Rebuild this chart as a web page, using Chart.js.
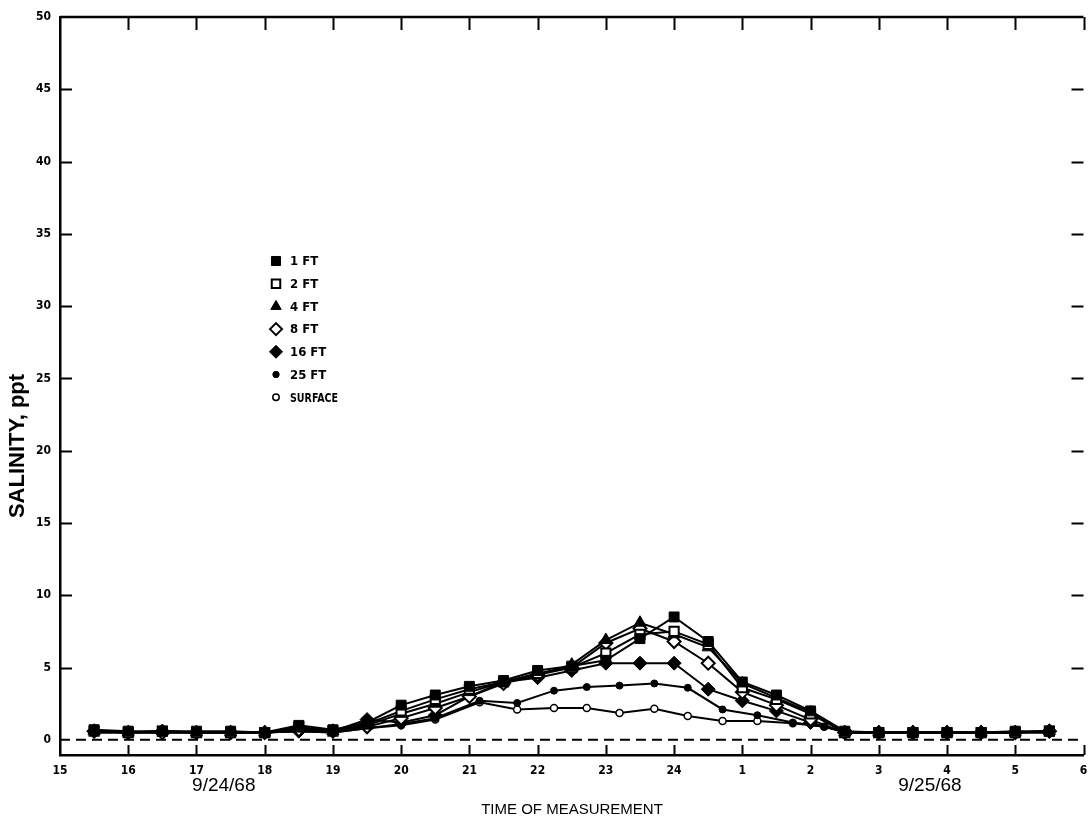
<!DOCTYPE html>
<html>
<head>
<meta charset="utf-8">
<script src="https://cdn.jsdelivr.net/npm/chart.js@4.4.1/dist/chart.umd.min.js"></script>
<style>
  html, body { margin: 0; padding: 0; background: #fff; }
  #wrap { width: 1092px; height: 823px; position: relative; }
</style>
</head>
<body>
<div id="wrap"><canvas id="c" width="1092" height="823"></canvas></div>
<script>
// Hour ticks along the time axis (clock hours running past midnight)
const hourTicks  = [15, 16, 17, 18, 19, 20, 21, 22, 23, 24, 25, 26, 27, 28, 29, 30];
const hourLabels = ['15', '16', '17', '18', '19', '20', '21', '22', '23', '24', '1', '2', '3', '4', '5', '6'];
const salinityTicks = [0, 5, 10, 15, 20, 25, 30, 35, 40, 45, 50];
const dateLabels = ['9/24/68', '9/25/68'];

// Sampling times (hours) for the 1-16 ft depths
const hoursUpper = [15.5, 16, 16.5, 17, 17.5, 18, 18.5, 19, 19.5, 20, 20.5, 21, 21.5, 22, 22.5,
                    23, 23.5, 24, 24.5, 25, 25.5, 26, 26.5, 27, 27.5, 28, 28.5, 29, 29.5];
// Sampling times (hours) for the 25 ft depth and the surface
const hoursLower = [15.5, 16, 16.5, 17, 17.5, 18, 18.5, 19, 19.5, 20, 20.5, 21.15, 21.7, 22.24, 22.72,
                    23.2, 23.71, 24.2, 24.71, 25.22, 25.74, 26.2, 26.55, 27, 27.5, 28, 28.5, 29, 29.5];

// Salinity, ppt
const ft1  = [0.7, 0.6, 0.6, 0.6, 0.6, 0.5, 1.0, 0.7, 1.2, 2.4, 3.1, 3.7, 4.1, 4.8, 5.1,
              5.5, 7.0, 8.5, 6.8, 4.0, 3.1, 2.0, 0.6, 0.5, 0.5, 0.5, 0.5, 0.6, 0.6];
const ft2  = [0.6, 0.5, 0.6, 0.5, 0.5, 0.5, 0.9, 0.6, 1.1, 2.0, 2.8, 3.5, 4.0, 4.6, 5.0,
              6.0, 7.3, 7.5, 6.6, 3.6, 2.8, 1.8, 0.5, 0.5, 0.5, 0.5, 0.5, 0.5, 0.6];
const ft4  = [0.6, 0.5, 0.6, 0.5, 0.5, 0.5, 0.8, 0.6, 1.0, 1.8, 2.5, 3.3, 4.0, 4.5, 5.2,
              6.9, 8.1, 7.3, 6.4, 3.9, 2.9, 1.9, 0.5, 0.5, 0.5, 0.5, 0.5, 0.5, 0.6];
const ft8  = [0.6, 0.5, 0.5, 0.5, 0.5, 0.5, 0.7, 0.6, 0.9, 1.5, 2.2, 3.0, 3.9, 4.5, 5.0,
              6.7, 7.7, 6.8, 5.3, 3.3, 2.4, 1.4, 0.5, 0.5, 0.5, 0.5, 0.5, 0.5, 0.6];
const ft16 = [0.6, 0.5, 0.6, 0.5, 0.5, 0.5, 0.6, 0.6, 1.4, 1.2, 1.7, 3.0, 4.0, 4.3, 4.8,
              5.3, 5.3, 5.3, 3.5, 2.7, 2.0, 1.2, 0.5, 0.5, 0.5, 0.5, 0.5, 0.5, 0.6];
const ft25 = [0.5, 0.5, 0.5, 0.5, 0.5, 0.5, 0.6, 0.5, 0.8, 1.1, 1.5, 2.7, 2.55, 3.4, 3.65,
              3.75, 3.9, 3.6, 2.1, 1.7, 1.2, 0.9, 0.5, 0.5, 0.5, 0.5, 0.5, 0.5, 0.5];
const surface = [0.5, 0.5, 0.5, 0.5, 0.5, 0.5, 0.6, 0.5, 0.8, 1.0, 1.4, 2.6, 2.1, 2.2, 2.2,
                 1.85, 2.15, 1.65, 1.3, 1.3, 1.15, 0.9, 0.5, 0.5, 0.5, 0.5, 0.5, 0.5, 0.5];

const seriesNames = ['1 FT', '2 FT', '4 FT', '8 FT', '16 FT', '25 FT', 'SURFACE'];

const condensed = "'DejaVu Sans Condensed', 'Liberation Sans Narrow', sans-serif";

function pts(hours, vals) { return hours.map((h, i) => ({ x: h, y: vals[i] })); }

const markerStyles = [
  { pointStyle: 'rect',     radius: 7,   key: 6.4, fill: '#000', borderWidth: 1 },
  { pointStyle: 'rect',     radius: 6.5, key: 6,   fill: '#fff', borderWidth: 2 },
  { pointStyle: 'triangle', radius: 7,   key: 6,   fill: '#000', borderWidth: 1 },
  { pointStyle: 'rectRot',  radius: 6.5, key: 6,   fill: '#fff', borderWidth: 2 },
  { pointStyle: 'rectRot',  radius: 7,   key: 6.5, fill: '#000', borderWidth: 1 },
  { pointStyle: 'circle',   radius: 3.5, key: 3.2, fill: '#000', borderWidth: 1 },
  { pointStyle: 'circle',   radius: 3.5, key: 3.2, fill: '#fff', borderWidth: 1.5 }
];

const seriesData = [
  pts(hoursUpper, ft1), pts(hoursUpper, ft2), pts(hoursUpper, ft4),
  pts(hoursUpper, ft8), pts(hoursUpper, ft16),
  pts(hoursLower, ft25), pts(hoursLower, surface)
];

const datasets = seriesData.map((d, i) => ({
  label: seriesNames[i],
  data: d,
  borderColor: '#000',
  borderWidth: 2,
  backgroundColor: markerStyles[i].fill,
  pointStyle: markerStyles[i].pointStyle,
  pointRadius: markerStyles[i].radius,
  pointBorderWidth: markerStyles[i].borderWidth,
  pointBorderColor: '#000',
  pointBackgroundColor: markerStyles[i].fill,
  tension: 0
}));

// Dashed zero-salinity reference line
datasets.push({
  label: 'zero',
  data: [{ x: hourTicks[0], y: 0 }, { x: hourTicks[hourTicks.length - 1], y: 0 }],
  borderColor: '#000',
  borderWidth: 2,
  borderDash: [10, 6],
  pointRadius: 0,
  order: 10
});

// Frame, inward tick marks, titles, date labels and the key
const decorations = {
  id: 'decorations',
  afterDraw(chart) {
    const { ctx, chartArea: a, scales: { x, y } } = chart;
    ctx.save();
    ctx.strokeStyle = '#000';
    ctx.lineWidth = 2.5;
    ctx.beginPath();
    ctx.moveTo(a.left, a.top);
    ctx.lineTo(a.right, a.top);
    ctx.stroke();

    ctx.lineWidth = 2;
    ctx.beginPath();
    hourTicks.slice(1).forEach(v => {
      const px = Math.round(x.getPixelForValue(v)) + 0.5;
      ctx.moveTo(px, a.bottom); ctx.lineTo(px, a.bottom - 10);
      ctx.moveTo(px, a.top);    ctx.lineTo(px, a.top + 13);
    });
    salinityTicks.slice(1, -1).forEach(v => {
      const py = Math.round(y.getPixelForValue(v)) + 0.5;
      ctx.moveTo(a.left, py);  ctx.lineTo(a.left + 12, py);
      ctx.moveTo(a.right, py); ctx.lineTo(a.right - 12, py);
    });
    ctx.stroke();

    // Axis titles and dates
    ctx.fillStyle = '#000';
    ctx.textAlign = 'center';
    ctx.textBaseline = 'middle';
    ctx.font = "15px 'Liberation Sans', Arial, sans-serif";
    ctx.fillText('TIME OF MEASUREMENT', 572, 810);

    ctx.font = "19px 'Liberation Sans', Arial, sans-serif";
    ctx.fillText(dateLabels[0], x.getPixelForValue(17.4), 786);
    ctx.fillText(dateLabels[1], x.getPixelForValue(27.75), 786);

    ctx.save();
    ctx.translate(18, 446);
    ctx.rotate(-Math.PI / 2);
    ctx.font = "bold 22px 'Liberation Sans', Arial, sans-serif";
    ctx.fillText('SALINITY, ppt', 0, 0);
    ctx.restore();

    // Key
    const keyX = 276, keyY0 = 261, keyStep = 22.7;
    seriesNames.forEach((name, i) => {
      const m = markerStyles[i];
      const cy = keyY0 + i * keyStep;
      ctx.fillStyle = m.fill;
      ctx.strokeStyle = '#000';
      ctx.lineWidth = m.borderWidth;
      Chart.helpers.drawPoint(ctx, {
        pointStyle: m.pointStyle,
        radius: m.key,
        rotation: 0,
        borderWidth: m.borderWidth
      }, keyX, cy);
      ctx.fillStyle = '#000';
      ctx.textAlign = 'left';
      ctx.font = 'bold 13px ' + condensed;
      if (i === 6) {
        ctx.fillText(name, keyX + 14, cy + 1, 48);
      } else {
        ctx.fillText(name, keyX + 14, cy + 1);
      }
    });
    ctx.restore();
  }
};

new Chart(document.getElementById('c'), {
  type: 'line',
  data: { datasets },
  options: {
    responsive: false,
    animation: false,
    devicePixelRatio: 1,
    layout: { padding: { top: 17, right: 0, left: 0, bottom: 0 } },
    plugins: { legend: { display: false }, tooltip: { enabled: false } },
    scales: {
      x: {
        type: 'linear',
        min: hourTicks[0],
        max: hourTicks[hourTicks.length - 1],
        afterBuildTicks: s => { s.ticks = hourTicks.map(v => ({ value: v })); },
        afterFit: s => { s.height = 68; s.paddingLeft = 0; s.paddingRight = 0; },
        grid: { display: false, drawTicks: false },
        border: { display: true, color: '#000', width: 2.5 },
        ticks: {
          padding: 9,
          maxRotation: 0,
          autoSkip: false,
          color: '#000',
          font: { family: condensed, size: 12, weight: 'bold' },
          callback: v => hourLabels[hourTicks.indexOf(v)]
        }
      },
      y: {
        type: 'linear',
        min: -1.05,
        max: 50,
        afterBuildTicks: s => { s.ticks = salinityTicks.map(v => ({ value: v })); },
        afterFit: s => { s.width = 60; s.paddingTop = 0; s.paddingBottom = 0; },
        grid: { display: false, drawTicks: false },
        border: { display: true, color: '#000', width: 2.5 },
        ticks: {
          padding: 9,
          color: '#000',
          font: { family: condensed, size: 12, weight: 'bold' }
        }
      }
    }
  },
  plugins: [decorations]
});
</script>
</body>
</html>
